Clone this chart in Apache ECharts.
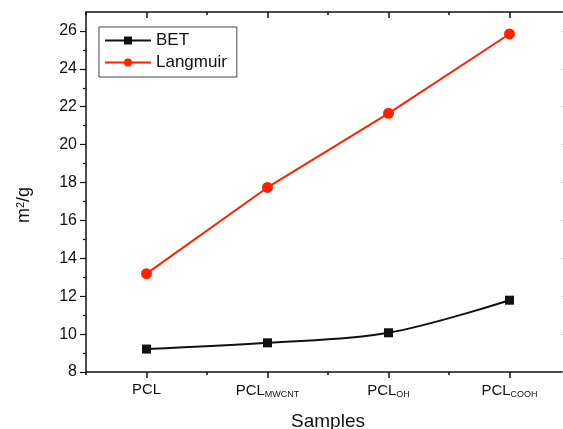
<!DOCTYPE html>
<html>
<head>
<meta charset="utf-8">
<script src="https://cdn.jsdelivr.net/npm/echarts@6/dist/echarts.min.js"></script>
<style>
  html, body { margin: 0; padding: 0; background: #fff; }
  #chart { width: 563px; height: 429px; }
</style>
</head>
<body>
<div id="chart"></div>
<script>
const categories = ['PCL', 'PCL{sub|MWCNT}', 'PCL{sub|OH}', 'PCL{sub|COOH}'];
const betValues = [9.21, 9.54, 10.07, 11.79];
const langmuirValues = [13.19, 17.74, 21.65, 25.84];
const yMajorTicks = [8, 10, 12, 14, 16, 18, 20, 22, 24, 26];
const yMinorTicks = [9, 11, 13, 15, 17, 19, 21, 23, 25];

const font = 'Liberation Sans, Arial, sans-serif';
const black = '#111';

const chart = echarts.init(document.getElementById('chart'));

const hidden = { show: false };

chart.setOption({
  backgroundColor: '#fff',
  animation: false,
  textStyle: { fontFamily: font },
  grid: { left: 86, width: 484, top: 12, height: 360, containLabel: false, outerBoundsMode: 'none' },
  legend: {
    orient: 'vertical',
    left: 99,
    top: 27,
    padding: [5, 10, 6, 5],
    itemGap: 5,
    itemWidth: 46,
    itemHeight: 10,
    borderColor: '#444',
    borderWidth: 1,
    textStyle: { fontSize: 17, color: black, fontFamily: font },
    data: ['BET', 'Langmuir']
  },
  xAxis: [
    {
      type: 'category',
      data: categories,
      position: 'bottom',
      boundaryGap: true,
      axisLine: { onZero: false, lineStyle: { color: black, width: 1.5 } },
      axisTick: { show: true, alignWithLabel: true, interval: 0, length: 6, lineStyle: { color: black, width: 1.5 } },
      axisLabel: {
        interval: 0,
        fontSize: 15,
        color: black,
        margin: 10,
        rich: { sub: { fontSize: 9, verticalAlign: 'bottom', padding: [8, 0, 0, 0], color: black } }
      },
      name: 'Samples',
      nameLocation: 'middle',
      nameGap: 40,
      nameTextStyle: { fontSize: 19, color: black }
    },
    {
      type: 'category',
      data: categories,
      position: 'bottom',
      axisLine: { show: false, onZero: false },
      axisLabel: { show: false, interval: 0 },
      axisTick: { show: true, length: 3, interval: 0, lineStyle: { color: black, width: 1.5 } }
    },
    {
      type: 'category',
      data: categories,
      position: 'top',
      axisLine: { onZero: false, lineStyle: { color: black, width: 1.5 } },
      axisLabel: { show: false, interval: 0 },
      axisTick: { show: true, inside: true, alignWithLabel: true, interval: 0, length: 6, lineStyle: { color: black, width: 1.5 } }
    },
    {
      type: 'category',
      data: categories,
      position: 'top',
      axisLine: { show: false, onZero: false },
      axisLabel: { show: false, interval: 0 },
      axisTick: { show: true, inside: true, length: 3, interval: 0, lineStyle: { color: black, width: 1.5 } }
    }
  ],
  yAxis: [
    {
      type: 'value',
      min: 8,
      max: 27,
      interval: 2,
      position: 'left',
      splitLine: hidden,
      axisLine: { show: true, onZero: false, lineStyle: { color: black, width: 1.5 } },
      axisTick: { show: true, length: 6, customValues: yMajorTicks, lineStyle: { color: black, width: 1.2 } },
      axisLabel: { fontSize: 16, color: black, margin: 9, customValues: yMajorTicks },
      name: 'm{sup|2}/g',
      nameLocation: 'middle',
      nameGap: 52,
      nameTextStyle: {
        fontSize: 18,
        color: black,
        padding: [0, 26, 0, 0],
        rich: { sup: { fontSize: 11, verticalAlign: 'top', padding: [0, 0, 8, 0], color: black } }
      }
    },
    {
      type: 'value',
      min: 8,
      max: 27,
      interval: 1,
      position: 'left',
      splitLine: hidden,
      axisLine: hidden,
      axisLabel: hidden,
      axisTick: { show: true, length: 3, customValues: yMinorTicks, lineStyle: { color: black, width: 1.2 } }
    },
    {
      type: 'value',
      min: 8,
      max: 27,
      interval: 2,
      position: 'right',
      splitLine: hidden,
      axisLine: { show: true, lineStyle: { color: black, width: 1.5 } },
      axisLabel: hidden,
      axisTick: { show: true, inside: true, length: 8, customValues: yMajorTicks, lineStyle: { color: '#bbb', width: 1 } }
    }
  ],
  series: [
    {
      name: 'BET',
      type: 'line',
      data: betValues,
      smooth: 0.35,
      symbol: 'rect',
      symbolSize: 9,
      color: black,
      lineStyle: { width: 2, color: black },
      itemStyle: { color: black }
    },
    {
      name: 'Langmuir',
      type: 'line',
      data: langmuirValues,
      symbol: 'circle',
      symbolSize: 11,
      color: '#ff2200',
      lineStyle: { width: 2, color: '#ff2200' },
      itemStyle: { color: '#ff2200' }
    }
  ]
});
</script>
</body>
</html>
